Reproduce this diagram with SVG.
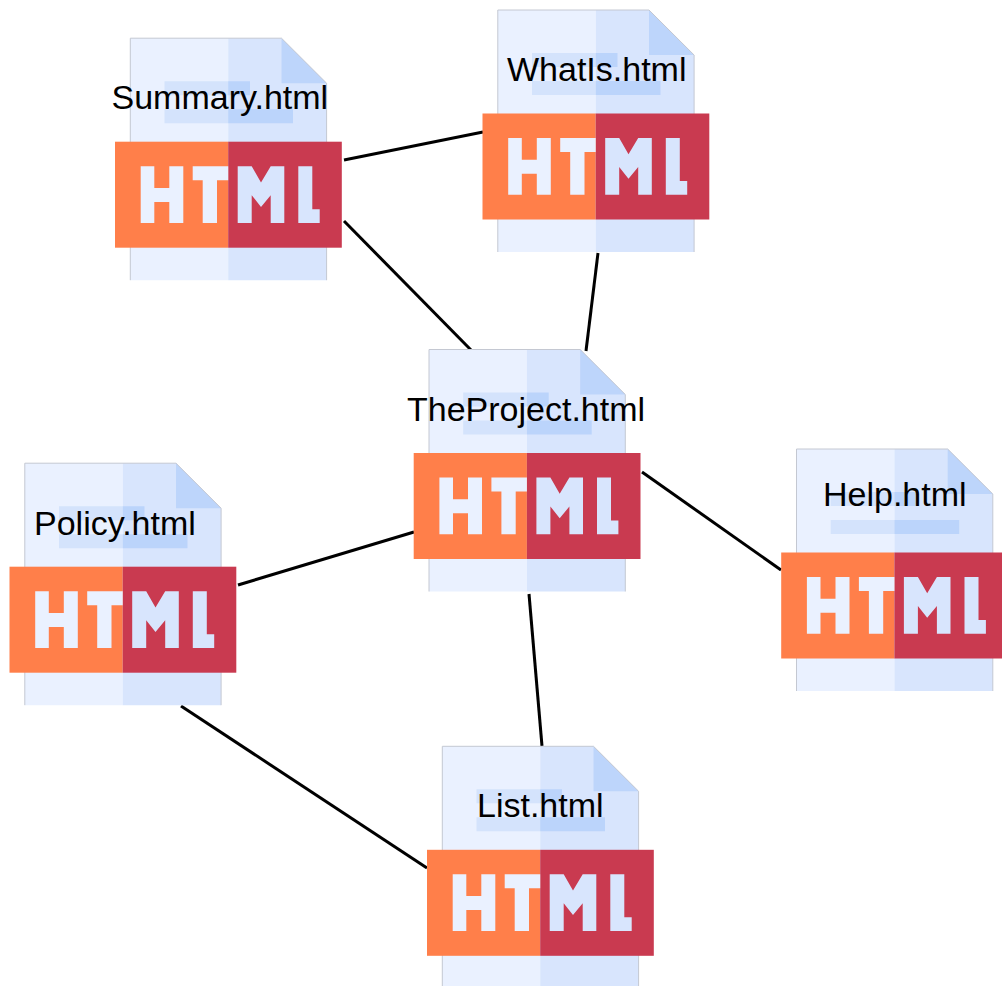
<svg xmlns="http://www.w3.org/2000/svg" width="1002" height="986" viewBox="0 0 1002 986">
<style>
.edge{stroke:#000;stroke-width:3;fill:none}
.label{font-family:"Liberation Sans",Arial,sans-serif;font-size:34px;fill:#000}
.pl{fill:#EAF1FF}.pr{fill:#D8E5FD}.fold{fill:#BDD5FB}.bl{fill:#D4E3FC}.br{fill:#BBD4FB}
.orange{fill:#FF7F4A}.red{fill:#C93A50}
.edgeline{fill:none;stroke:#C4C8D2;stroke-width:1}
</style>
<defs>
<g id="doc">
<path class="pl" d="M15.3 0H113.2V242H15.3Z"/>
<path class="pr" d="M113.2 0H166.5L211.6 45V242H113.2Z"/>
<path class="fold" d="M166.5 0L211.6 45H166.5Z"/>
<path class="bl" d="M49.5 43H113.2V57H49.5ZM49.5 71H113.2V85H49.5Z"/>
<path class="br" d="M113.2 43H135V57H113.2ZM113.2 71H178V85H113.2Z"/>
<path class="edgeline" d="M15.3 242V0H166.5L211.6 45V242"/>
<rect class="orange" y="103.5" width="113.2" height="106"/>
<rect class="red" x="113.2" y="103.5" width="113.6" height="106"/>
<path class="pl" d="M25.7 128H39.3V149.7H54.3V128H68.3V184.7H54.3V163.7H39.3V184.7H25.7ZM77.7 128H113.2V142H102V184.7H87.7V142H77.7Z"/>
<path class="pr" d="M122.7 128H136.7L146 144.3L155.7 128H169.3V184.7H155.7V157L146 168.7L136.7 157V184.7H122.7ZM183.3 128H197.3V171H204.7V184.7H183.3Z"/>
</g>
</defs>
<g id="connectors">
<line class="edge" x1="344" y1="160" x2="483" y2="132"/>
<line class="edge" x1="344" y1="221" x2="471" y2="350"/>
<line class="edge" x1="598" y1="253" x2="586" y2="351"/>
<line class="edge" x1="642" y1="472" x2="781" y2="570"/>
<line class="edge" x1="529" y1="594" x2="542" y2="746"/>
<line class="edge" x1="238" y1="585" x2="414" y2="532"/>
<line class="edge" x1="181" y1="706" x2="427" y2="868"/>
</g>
<g id="summary"><use href="#doc" x="115" y="38.2"/><text class="label" x="111.5" y="109">Summary.html</text></g>
<g id="whatis"><use href="#doc" x="482.5" y="10"/><text class="label" x="507" y="81">WhatIs.html</text></g>
<g id="theproject"><use href="#doc" x="413.7" y="349.5"/><text class="label" x="407" y="421">TheProject.html</text></g>
<g id="help"><use href="#doc" x="781.2" y="449"/><text class="label" x="823" y="506">Help.html</text></g>
<g id="policy"><use href="#doc" x="9.5" y="463.2"/><text class="label" x="34" y="535">Policy.html</text></g>
<g id="list"><use href="#doc" x="427" y="746.3"/><text class="label" x="477" y="817">List.html</text></g>
</svg>
